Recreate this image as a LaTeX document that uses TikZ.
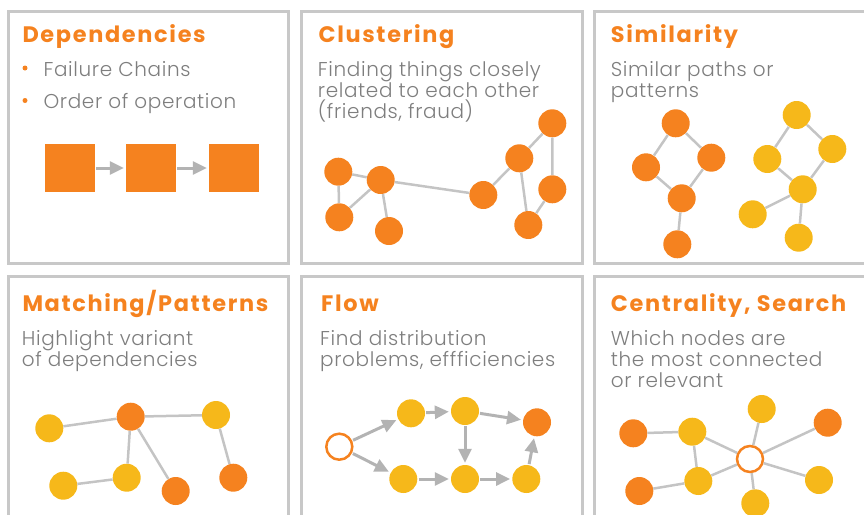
\documentclass[tikz,border=0pt]{standalone}
\usepackage{fontspec}
\newfontfamily\titlefont{Poppins Bold}[LetterSpace=7.5]
\newfontfamily\bodyfont{Poppins Light}[LetterSpace=3.2]
\usetikzlibrary{arrows.meta}
\definecolor{org}{HTML}{F5821F}
\definecolor{yel}{HTML}{F6B81A}
\definecolor{txt}{HTML}{7E7E7E}
\definecolor{bord}{HTML}{C8C8C8}
\definecolor{edg}{HTML}{C4C4C4}
\definecolor{arr}{HTML}{B3B3B3}
\tikzset{
  panel/.style={draw=bord,line width=3pt},
  ttl/.style={anchor=base west,inner sep=0pt,text=org,font=\titlefont\fontsize{22.4}{24}\selectfont},
  body/.style={anchor=base west,inner sep=0pt,text=txt,align=left,font=\bodyfont\fontsize{20}{21}\selectfont},
  on/.style={circle,fill=org,minimum size=28pt,inner sep=0pt},
  yn/.style={circle,fill=yel,minimum size=28pt,inner sep=0pt},
  hn/.style={circle,draw=org,line width=2.5pt,fill=white,minimum size=26pt,inner sep=0pt},
  sq/.style={rectangle,fill=org,minimum width=50pt,minimum height=48pt,inner sep=0pt},
  ed/.style={draw=edg,line width=2.5pt},
  ar/.style={draw=arr,line width=3pt,-{Triangle[length=14pt,width=13pt]},shorten >=2pt,shorten <=1pt},
  bul/.style={circle,fill=org,minimum size=5pt,inner sep=0pt}
}
\begin{document}
\begin{tikzpicture}[x=1pt,y=-1pt]
\useasboundingbox (0,0) rectangle (864,514);
\clip (0,0) rectangle (864,514);
% panels
\draw[panel] (8.8,11.7) rectangle (288.5,263.5);
\draw[panel] (301.7,11.7) rectangle (582.3,263.5);
\draw[panel] (594.7,11.7) rectangle (900,263.5);
\draw[panel] (8.8,276.3) rectangle (288.5,540);
\draw[panel] (301.7,276.3) rectangle (582.3,540);
\draw[panel] (594.7,276.3) rectangle (900,540);
% titles
\node[ttl] (t1) at (22.3,42.5) {Dependencies};
\node[ttl] (t2) at (318.3,42.5) {Clustering};
\node[ttl] (t3) at (610.7,42.5) {Similarity};
\node[ttl] (t4) at (22.3,311.7) {Matching/Patterns};
\node[ttl] (t5) at (321,311.7) {Flow};
\node[ttl] (t6) at (610.7,311.7) {Centrality, Search};
% bodies
\node[bul] (b1) at (25,68) {};
\node[body] (d1) at (43.3,76) {Failure Chains};
\node[bul] (b2) at (25,100.5) {};
\node[body] (d2) at (43.3,108.3) {Order of operation};
\node[body] (c1) at (317.7,118.3) {Finding things closely\\related to each other\\(friends, fraud)};
\node[body] (s1) at (610.7,97.3) {Similar paths or\\patterns};
\node[body] (m1) at (21.7,366) {Highlight variant\\of dependencies};
\node[body] (f1) at (320,366) {Find distribution\\problems, effficiencies};
\node[body] (z1) at (610.7,387.5) {Which nodes are\\the most connected\\or relevant};
% dependencies chain
\node[sq] (q1) at (70,168) {};
\node[sq] (q2) at (151,168) {};
\node[sq] (q3) at (234,168) {};
\draw[ar] (q1) -- (q2);
\draw[ar] (q2) -- (q3);
% clustering
\node[on] (cA) at (338.3,171.7) {};
\node[on] (cB) at (380.7,180) {};
\node[on] (cC) at (339.3,217.3) {};
\node[on] (cD) at (389,231) {};
\node[on] (cE) at (483.3,195) {};
\node[on] (cF) at (519.3,158.3) {};
\node[on] (cG) at (552.3,123.3) {};
\node[on] (cH) at (552.3,189.3) {};
\node[on] (cI) at (528.3,225) {};
\draw[ed] (cA)--(cB) (cA)--(cC) (cB)--(cC) (cB)--(cD) (cB)--(cE) (cE)--(cF) (cF)--(cG) (cF)--(cI) (cG)--(cH) (cH)--(cI);
% similarity
\node[on] (o1) at (675.7,123.3) {};
\node[on] (o2) at (646,167.3) {};
\node[on] (o3) at (711.3,157.7) {};
\node[on] (o4) at (681.7,198.3) {};
\node[on] (o5) at (677.3,244.3) {};
\draw[ed] (o1)--(o2) (o1)--(o3) (o2)--(o4) (o3)--(o4) (o4)--(o5);
\node[yn] (y1) at (796.7,115) {};
\node[yn] (y2) at (767.3,159) {};
\node[yn] (y3) at (832.3,149) {};
\node[yn] (y4) at (802.7,189.3) {};
\node[yn] (y5) at (752.7,214.3) {};
\node[yn] (y6) at (798.7,237.7) {};
\draw[ed] (y1)--(y2) (y1)--(y3) (y2)--(y4) (y3)--(y4) (y4)--(y5) (y4)--(y6);
% matching
\node[yn] (m1n) at (49.3,428.3) {};
\node[on] (m2n) at (130.7,416.7) {};
\node[yn] (m3n) at (216,415) {};
\node[yn] (m4n) at (63.3,485.7) {};
\node[yn] (m5n) at (126.7,477.7) {};
\node[on] (m6n) at (175.7,491) {};
\node[on] (m7n) at (233.3,477.7) {};
\draw[ed] (m1n)--(m2n) (m2n)--(m3n) (m2n)--(m5n) (m2n)--(m6n) (m4n)--(m5n) (m3n)--(m7n);
% flow
\node[hn] (fs) at (339.3,446.7) {};
\node[yn] (fa) at (411,413.3) {};
\node[yn] (fb) at (465,411) {};
\node[on] (fc) at (537,422.3) {};
\node[yn] (fd) at (403.3,479) {};
\node[yn] (fe) at (465,479) {};
\node[yn] (ff) at (526.3,479) {};
\draw[ar] (fs)--(fa);
\draw[ar] (fs)--(fd);
\draw[ar] (fa)--(fb);
\draw[ar] (fb)--(fc);
\draw[ar] (fb)--(fe);
\draw[ar] (fd)--(fe);
\draw[ar] (fe)--(ff);
\draw[ar] (ff)--(fc);
% centrality
\node[hn] (k0) at (750,459) {};
\node[on] (k1) at (633.3,433.3) {};
\node[yn] (k2) at (692.3,431.7) {};
\node[yn] (k3) at (761.7,409) {};
\node[on] (k4) at (827.7,422.7) {};
\node[on] (k5) at (639.3,491) {};
\node[yn] (k6) at (698.3,481) {};
\node[yn] (k7) at (755.3,503.3) {};
\node[yn] (k8) at (819,480) {};
\draw[ed] (k1)--(k2) (k2)--(k0) (k2)--(k6) (k3)--(k0) (k4)--(k0) (k5)--(k6) (k6)--(k0) (k7)--(k0) (k8)--(k0);
\end{tikzpicture}
\end{document}
